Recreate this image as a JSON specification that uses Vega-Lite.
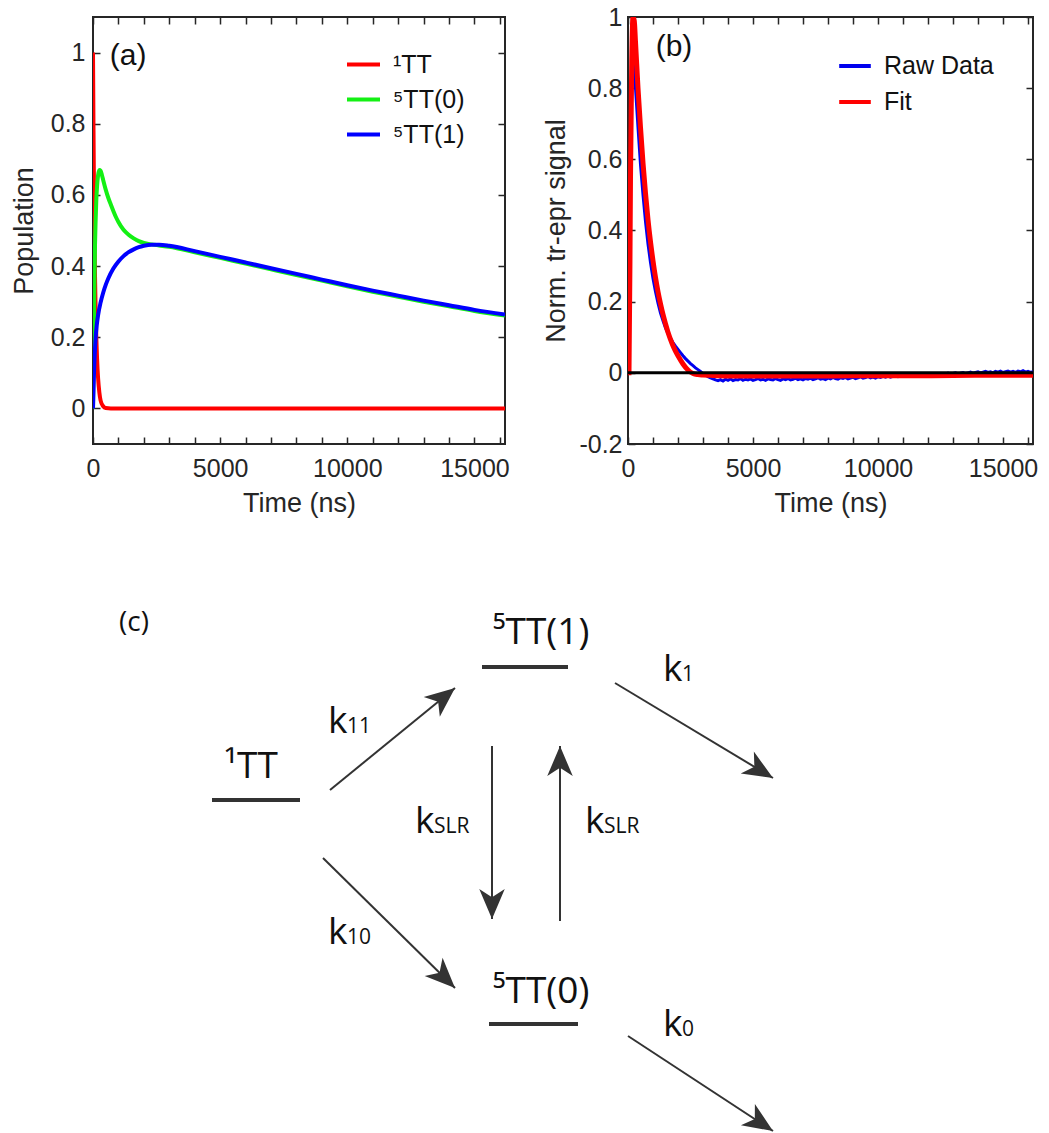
{
"$schema":"https://vega.github.io/schema/vega-lite/v6.json",
"padding":{"left":9,"top":4,"right":0,"bottom":0},
"config":{
 "font":"Liberation Sans",
 "axis":{"labelFont":"Liberation Sans","titleFont":"Liberation Sans","labelColor":"#262626","titleColor":"#262626","titleFontWeight":"normal","labelFontSize":25,"titleFontSize":27,"tickColor":"#262626","tickWidth":1.5,"tickSize":-7,"domain":false,"grid":false,"labelFlush":false,"labelOverlap":false,"labelBound":false},
 "view":{"stroke":"#262626","strokeWidth":2},
 "legend":{"orient":"none","title":null,"symbolType":"stroke","symbolStrokeWidth":4,"labelFont":"Liberation Sans","labelFontSize":25,"labelColor":"#111","rowPadding":3,"labelOffset":11,"padding":0}
},
"datasets":{
 "pop":[
  {"t":0,"v":1,"s":"¹TT"},{"t":20,"v":0.78,"s":"¹TT"},{"t":40,"v":0.6,"s":"¹TT"},{"t":60,"v":0.47,"s":"¹TT"},{"t":80,"v":0.37,"s":"¹TT"},{"t":100,"v":0.29,"s":"¹TT"},{"t":130,"v":0.2,"s":"¹TT"},{"t":160,"v":0.14,"s":"¹TT"},{"t":200,"v":0.085,"s":"¹TT"},{"t":250,"v":0.045,"s":"¹TT"},{"t":300,"v":0.022,"s":"¹TT"},{"t":400,"v":0.006,"s":"¹TT"},{"t":500,"v":0.001,"s":"¹TT"},{"t":700,"v":0,"s":"¹TT"},{"t":16200,"v":0,"s":"¹TT"},
  {"t":0,"v":0,"s":"⁵TT(0)"},{"t":20,"v":0.14,"s":"⁵TT(0)"},{"t":40,"v":0.27,"s":"⁵TT(0)"},{"t":60,"v":0.38,"s":"⁵TT(0)"},{"t":80,"v":0.46,"s":"⁵TT(0)"},{"t":100,"v":0.52,"s":"⁵TT(0)"},{"t":130,"v":0.585,"s":"⁵TT(0)"},{"t":160,"v":0.625,"s":"⁵TT(0)"},{"t":200,"v":0.655,"s":"⁵TT(0)"},{"t":250,"v":0.67,"s":"⁵TT(0)"},{"t":300,"v":0.668,"s":"⁵TT(0)"},{"t":350,"v":0.656,"s":"⁵TT(0)"},{"t":400,"v":0.642,"s":"⁵TT(0)"},{"t":500,"v":0.615,"s":"⁵TT(0)"},{"t":600,"v":0.592,"s":"⁵TT(0)"},{"t":700,"v":0.573,"s":"⁵TT(0)"},{"t":800,"v":0.555,"s":"⁵TT(0)"},{"t":900,"v":0.538,"s":"⁵TT(0)"},{"t":1000,"v":0.524,"s":"⁵TT(0)"},{"t":1200,"v":0.502,"s":"⁵TT(0)"},{"t":1400,"v":0.488,"s":"⁵TT(0)"},{"t":1600,"v":0.478,"s":"⁵TT(0)"},{"t":1800,"v":0.47,"s":"⁵TT(0)"},{"t":2000,"v":0.465,"s":"⁵TT(0)"},{"t":2300,"v":0.461,"s":"⁵TT(0)"},{"t":2600,"v":0.458,"s":"⁵TT(0)"},{"t":3000,"v":0.454,"s":"⁵TT(0)"},{"t":4000,"v":0.439,"s":"⁵TT(0)"},{"t":5000,"v":0.423,"s":"⁵TT(0)"},{"t":6000,"v":0.407,"s":"⁵TT(0)"},{"t":7000,"v":0.391,"s":"⁵TT(0)"},{"t":8000,"v":0.375,"s":"⁵TT(0)"},{"t":9000,"v":0.359,"s":"⁵TT(0)"},{"t":10000,"v":0.343,"s":"⁵TT(0)"},{"t":11000,"v":0.328,"s":"⁵TT(0)"},{"t":12000,"v":0.314,"s":"⁵TT(0)"},{"t":13000,"v":0.3,"s":"⁵TT(0)"},{"t":14000,"v":0.287,"s":"⁵TT(0)"},{"t":15000,"v":0.274,"s":"⁵TT(0)"},{"t":16200,"v":0.261,"s":"⁵TT(0)"},
  {"t":0,"v":0,"s":"⁵TT(1)"},{"t":20,"v":0.05,"s":"⁵TT(1)"},{"t":40,"v":0.1,"s":"⁵TT(1)"},{"t":60,"v":0.14,"s":"⁵TT(1)"},{"t":80,"v":0.17,"s":"⁵TT(1)"},{"t":100,"v":0.195,"s":"⁵TT(1)"},{"t":150,"v":0.235,"s":"⁵TT(1)"},{"t":200,"v":0.262,"s":"⁵TT(1)"},{"t":300,"v":0.298,"s":"⁵TT(1)"},{"t":400,"v":0.325,"s":"⁵TT(1)"},{"t":500,"v":0.347,"s":"⁵TT(1)"},{"t":600,"v":0.365,"s":"⁵TT(1)"},{"t":800,"v":0.393,"s":"⁵TT(1)"},{"t":1000,"v":0.413,"s":"⁵TT(1)"},{"t":1200,"v":0.428,"s":"⁵TT(1)"},{"t":1400,"v":0.439,"s":"⁵TT(1)"},{"t":1600,"v":0.447,"s":"⁵TT(1)"},{"t":1800,"v":0.453,"s":"⁵TT(1)"},{"t":2000,"v":0.457,"s":"⁵TT(1)"},{"t":2300,"v":0.46,"s":"⁵TT(1)"},{"t":2600,"v":0.46,"s":"⁵TT(1)"},{"t":3000,"v":0.457,"s":"⁵TT(1)"},{"t":4000,"v":0.442,"s":"⁵TT(1)"},{"t":5000,"v":0.426,"s":"⁵TT(1)"},{"t":6000,"v":0.41,"s":"⁵TT(1)"},{"t":7000,"v":0.394,"s":"⁵TT(1)"},{"t":8000,"v":0.378,"s":"⁵TT(1)"},{"t":9000,"v":0.362,"s":"⁵TT(1)"},{"t":10000,"v":0.346,"s":"⁵TT(1)"},{"t":11000,"v":0.331,"s":"⁵TT(1)"},{"t":12000,"v":0.317,"s":"⁵TT(1)"},{"t":13000,"v":0.303,"s":"⁵TT(1)"},{"t":14000,"v":0.29,"s":"⁵TT(1)"},{"t":15000,"v":0.277,"s":"⁵TT(1)"},{"t":16200,"v":0.264,"s":"⁵TT(1)"}
 ],
 "sig":[
  {"t":0,"v":0,"s":"Raw Data"},{"t":30,"v":0,"s":"Raw Data"},{"t":60,"v":0.15,"s":"Raw Data"},{"t":100,"v":0.5,"s":"Raw Data"},{"t":150,"v":0.82,"s":"Raw Data"},{"t":200,"v":0.92,"s":"Raw Data"},{"t":250,"v":0.88,"s":"Raw Data"},{"t":300,"v":0.8,"s":"Raw Data"},{"t":400,"v":0.69,"s":"Raw Data"},{"t":500,"v":0.585,"s":"Raw Data"},{"t":600,"v":0.5,"s":"Raw Data"},{"t":700,"v":0.425,"s":"Raw Data"},{"t":800,"v":0.362,"s":"Raw Data"},{"t":900,"v":0.31,"s":"Raw Data"},{"t":1000,"v":0.265,"s":"Raw Data"},{"t":1100,"v":0.228,"s":"Raw Data"},{"t":1200,"v":0.196,"s":"Raw Data"},{"t":1300,"v":0.168,"s":"Raw Data"},{"t":1400,"v":0.146,"s":"Raw Data"},{"t":1500,"v":0.126,"s":"Raw Data"},{"t":1600,"v":0.11,"s":"Raw Data"},{"t":1700,"v":0.097,"s":"Raw Data"},{"t":1800,"v":0.085,"s":"Raw Data"},{"t":1900,"v":0.075,"s":"Raw Data"},{"t":2000,"v":0.066,"s":"Raw Data"},{"t":2100,"v":0.057,"s":"Raw Data"},{"t":2200,"v":0.048,"s":"Raw Data"},{"t":2300,"v":0.04,"s":"Raw Data"},{"t":2400,"v":0.033,"s":"Raw Data"},{"t":2500,"v":0.026,"s":"Raw Data"},{"t":2600,"v":0.02,"s":"Raw Data"},{"t":2700,"v":0.014,"s":"Raw Data"},{"t":2800,"v":0.009,"s":"Raw Data"},{"t":2900,"v":0.004,"s":"Raw Data"},
  {"t":3000,"v":-0.002,"s":"Raw Data"},{"t":3100,"v":-0.006,"s":"Raw Data"},{"t":3200,"v":-0.011,"s":"Raw Data"},{"t":3300,"v":-0.014,"s":"Raw Data"},{"t":3400,"v":-0.017,"s":"Raw Data"},{"t":3500,"v":-0.02,"s":"Raw Data"},{"t":3600,"v":-0.022,"s":"Raw Data"},{"t":3700,"v":-0.019,"s":"Raw Data"},{"t":3800,"v":-0.023,"s":"Raw Data"},{"t":3900,"v":-0.018,"s":"Raw Data"},{"t":4000,"v":-0.021,"s":"Raw Data"},{"t":4100,"v":-0.017,"s":"Raw Data"},{"t":4200,"v":-0.022,"s":"Raw Data"},{"t":4300,"v":-0.019,"s":"Raw Data"},{"t":4400,"v":-0.02,"s":"Raw Data"},{"t":4500,"v":-0.016,"s":"Raw Data"},{"t":4600,"v":-0.021,"s":"Raw Data"},{"t":4700,"v":-0.018,"s":"Raw Data"},{"t":4800,"v":-0.02,"s":"Raw Data"},{"t":4900,"v":-0.017,"s":"Raw Data"},{"t":5000,"v":-0.021,"s":"Raw Data"},{"t":5100,"v":-0.019,"s":"Raw Data"},{"t":5200,"v":-0.016,"s":"Raw Data"},{"t":5300,"v":-0.02,"s":"Raw Data"},{"t":5400,"v":-0.018,"s":"Raw Data"},{"t":5500,"v":-0.021,"s":"Raw Data"},{"t":5600,"v":-0.017,"s":"Raw Data"},{"t":5700,"v":-0.019,"s":"Raw Data"},{"t":5800,"v":-0.02,"s":"Raw Data"},{"t":5900,"v":-0.016,"s":"Raw Data"},{"t":6000,"v":-0.019,"s":"Raw Data"},{"t":6100,"v":-0.021,"s":"Raw Data"},{"t":6200,"v":-0.017,"s":"Raw Data"},{"t":6300,"v":-0.019,"s":"Raw Data"},{"t":6400,"v":-0.016,"s":"Raw Data"},{"t":6500,"v":-0.02,"s":"Raw Data"},{"t":6600,"v":-0.018,"s":"Raw Data"},{"t":6700,"v":-0.015,"s":"Raw Data"},{"t":6800,"v":-0.019,"s":"Raw Data"},{"t":6900,"v":-0.017,"s":"Raw Data"},{"t":7000,"v":-0.02,"s":"Raw Data"},{"t":7100,"v":-0.016,"s":"Raw Data"},{"t":7200,"v":-0.018,"s":"Raw Data"},{"t":7300,"v":-0.015,"s":"Raw Data"},{"t":7400,"v":-0.019,"s":"Raw Data"},{"t":7500,"v":-0.017,"s":"Raw Data"},{"t":7600,"v":-0.014,"s":"Raw Data"},{"t":7700,"v":-0.018,"s":"Raw Data"},{"t":7800,"v":-0.016,"s":"Raw Data"},{"t":7900,"v":-0.019,"s":"Raw Data"},{"t":8000,"v":-0.015,"s":"Raw Data"},{"t":8100,"v":-0.017,"s":"Raw Data"},{"t":8200,"v":-0.013,"s":"Raw Data"},{"t":8300,"v":-0.016,"s":"Raw Data"},{"t":8400,"v":-0.018,"s":"Raw Data"},{"t":8500,"v":-0.014,"s":"Raw Data"},{"t":8600,"v":-0.016,"s":"Raw Data"},{"t":8700,"v":-0.013,"s":"Raw Data"},{"t":8800,"v":-0.017,"s":"Raw Data"},{"t":8900,"v":-0.015,"s":"Raw Data"},{"t":9000,"v":-0.012,"s":"Raw Data"},{"t":9100,"v":-0.016,"s":"Raw Data"},{"t":9200,"v":-0.014,"s":"Raw Data"},{"t":9300,"v":-0.011,"s":"Raw Data"},{"t":9400,"v":-0.015,"s":"Raw Data"},{"t":9500,"v":-0.013,"s":"Raw Data"},{"t":9600,"v":-0.01,"s":"Raw Data"},{"t":9700,"v":-0.014,"s":"Raw Data"},{"t":9800,"v":-0.012,"s":"Raw Data"},{"t":9900,"v":-0.015,"s":"Raw Data"},{"t":10000,"v":-0.011,"s":"Raw Data"},{"t":10100,"v":-0.013,"s":"Raw Data"},{"t":10200,"v":-0.01,"s":"Raw Data"},{"t":10300,"v":-0.012,"s":"Raw Data"},{"t":10400,"v":-0.009,"s":"Raw Data"},{"t":10500,"v":-0.012,"s":"Raw Data"},{"t":10600,"v":-0.01,"s":"Raw Data"},{"t":10700,"v":-0.008,"s":"Raw Data"},{"t":10800,"v":-0.011,"s":"Raw Data"},{"t":10900,"v":-0.009,"s":"Raw Data"},{"t":11000,"v":-0.007,"s":"Raw Data"},{"t":11100,"v":-0.01,"s":"Raw Data"},{"t":11200,"v":-0.008,"s":"Raw Data"},{"t":11300,"v":-0.006,"s":"Raw Data"},{"t":11400,"v":-0.009,"s":"Raw Data"},{"t":11500,"v":-0.007,"s":"Raw Data"},{"t":11600,"v":-0.005,"s":"Raw Data"},{"t":11700,"v":-0.008,"s":"Raw Data"},{"t":11800,"v":-0.006,"s":"Raw Data"},{"t":11900,"v":-0.004,"s":"Raw Data"},{"t":12000,"v":-0.007,"s":"Raw Data"},{"t":12100,"v":-0.005,"s":"Raw Data"},{"t":12200,"v":-0.003,"s":"Raw Data"},{"t":12300,"v":-0.006,"s":"Raw Data"},{"t":12400,"v":-0.004,"s":"Raw Data"},{"t":12500,"v":-0.002,"s":"Raw Data"},{"t":12600,"v":-0.005,"s":"Raw Data"},{"t":12700,"v":-0.003,"s":"Raw Data"},{"t":12800,"v":-0.001,"s":"Raw Data"},{"t":12900,"v":-0.004,"s":"Raw Data"},{"t":13000,"v":-0.002,"s":"Raw Data"},{"t":13100,"v":0,"s":"Raw Data"},{"t":13200,"v":-0.003,"s":"Raw Data"},{"t":13300,"v":-0.001,"s":"Raw Data"},{"t":13400,"v":0.001,"s":"Raw Data"},{"t":13500,"v":-0.002,"s":"Raw Data"},{"t":13600,"v":0,"s":"Raw Data"},{"t":13700,"v":0.002,"s":"Raw Data"},{"t":13800,"v":-0.001,"s":"Raw Data"},{"t":13900,"v":0.001,"s":"Raw Data"},{"t":14000,"v":0.003,"s":"Raw Data"},{"t":14100,"v":0,"s":"Raw Data"},{"t":14200,"v":0.002,"s":"Raw Data"},{"t":14300,"v":0.004,"s":"Raw Data"},{"t":14400,"v":0.001,"s":"Raw Data"},{"t":14500,"v":0.003,"s":"Raw Data"},{"t":14600,"v":0,"s":"Raw Data"},{"t":14700,"v":0.004,"s":"Raw Data"},{"t":14800,"v":0.002,"s":"Raw Data"},{"t":14900,"v":0.005,"s":"Raw Data"},{"t":15000,"v":0.001,"s":"Raw Data"},{"t":15100,"v":0.003,"s":"Raw Data"},{"t":15200,"v":0.005,"s":"Raw Data"},{"t":15300,"v":0.002,"s":"Raw Data"},{"t":15400,"v":0.004,"s":"Raw Data"},{"t":15500,"v":0.001,"s":"Raw Data"},{"t":15600,"v":0.005,"s":"Raw Data"},{"t":15700,"v":0.003,"s":"Raw Data"},{"t":15800,"v":0.006,"s":"Raw Data"},{"t":15900,"v":0.002,"s":"Raw Data"},{"t":16000,"v":0.004,"s":"Raw Data"},{"t":16100,"v":0.001,"s":"Raw Data"},{"t":16200,"v":0.003,"s":"Raw Data"},
  {"t":0,"v":0,"s":"Fit"},{"t":40,"v":0,"s":"Fit"},{"t":100,"v":0.55,"s":"Fit"},{"t":150,"v":0.88,"s":"Fit"},{"t":200,"v":1.0,"s":"Fit"},{"t":250,"v":0.99,"s":"Fit"},{"t":300,"v":0.93,"s":"Fit"},{"t":400,"v":0.8,"s":"Fit"},{"t":500,"v":0.69,"s":"Fit"},{"t":600,"v":0.59,"s":"Fit"},{"t":700,"v":0.505,"s":"Fit"},{"t":800,"v":0.43,"s":"Fit"},{"t":900,"v":0.368,"s":"Fit"},{"t":1000,"v":0.315,"s":"Fit"},{"t":1100,"v":0.268,"s":"Fit"},{"t":1200,"v":0.228,"s":"Fit"},{"t":1300,"v":0.194,"s":"Fit"},{"t":1400,"v":0.164,"s":"Fit"},{"t":1500,"v":0.138,"s":"Fit"},{"t":1600,"v":0.114,"s":"Fit"},{"t":1700,"v":0.094,"s":"Fit"},{"t":1800,"v":0.076,"s":"Fit"},{"t":1900,"v":0.061,"s":"Fit"},{"t":2000,"v":0.048,"s":"Fit"},{"t":2200,"v":0.025,"s":"Fit"},{"t":2400,"v":0.008,"s":"Fit"},{"t":2600,"v":-0.002,"s":"Fit"},{"t":2800,"v":-0.005,"s":"Fit"},{"t":3000,"v":-0.006,"s":"Fit"},{"t":3300,"v":-0.007,"s":"Fit"},{"t":3600,"v":-0.008,"s":"Fit"},{"t":4000,"v":-0.009,"s":"Fit"},{"t":6000,"v":-0.009,"s":"Fit"},{"t":8000,"v":-0.009,"s":"Fit"},{"t":10000,"v":-0.008,"s":"Fit"},{"t":12000,"v":-0.008,"s":"Fit"},{"t":14000,"v":-0.007,"s":"Fit"},{"t":16200,"v":-0.007,"s":"Fit"}
 ],
 "levels":[{"x":11.9,"x2":20.7,"y":20.9},{"x":38.9,"x2":47.5,"y":7.6},{"x":39.6,"x2":48.5,"y":43.3}],
 "levelLabels":[{"x":15.8,"y":18.7,"label":"¹TT"},{"x":44.8,"y":5.3,"label":"⁵TT(1)"},{"x":44.8,"y":41.2,"label":"⁵TT(0)"}],
 "arrows":[
  {"x":23.7,"y":19.9,"x2":36.2,"y2":9.7},
  {"x":23.0,"y":26.7,"x2":36.2,"y2":39.7},
  {"x":52.2,"y":9.2,"x2":68.0,"y2":18.7},
  {"x":53.5,"y":44.5,"x2":68.0,"y2":54.0},
  {"x":39.9,"y":15.5,"x2":39.9,"y2":32.8},
  {"x":46.7,"y":33.0,"x2":46.7,"y2":15.5}
 ],
 "rates":[
  {"x":23.5,"y":14.2,"sub":"11"},
  {"x":23.5,"y":35.3,"sub":"10"},
  {"x":57.0,"y":9.0,"sub":"1"},
  {"x":57.0,"y":44.5,"sub":"0"},
  {"x":32.2,"y":24.2,"sub":"SLR"},
  {"x":49.2,"y":24.2,"sub":"SLR"}
 ]
},
"vconcat":[
 {
  "hconcat":[
   {
    "width":412,"height":427,
    "layer":[
     {"data":{"name":"pop"},
      "mark":{"type":"line","strokeWidth":4,"interpolate":"monotone","clip":true},
      "encoding":{
       "x":{"field":"t","type":"quantitative","scale":{"domain":[0,16200],"nice":false,"zero":false},
            "axis":{"orient":"bottom","values":[0,1000,2000,3000,4000,5000,6000,7000,8000,9000,10000,11000,12000,13000,14000,15000,16000],"labelExpr":"datum.value % 5000 === 0 ? format(datum.value, 'd') : ''","labelPadding":19,"title":"Time (ns)","titlePadding":9}},
       "y":{"field":"v","type":"quantitative","scale":{"domain":[-0.1,1.1],"nice":false,"zero":false},
            "axis":{"orient":"left","values":[0,0.2,0.4,0.6,0.8,1],"format":".1~f","labelPadding":15,"title":"Population","titlePadding":12}},
       "color":{"field":"s","type":"nominal","sort":null,"scale":{"domain":["¹TT","⁵TT(0)","⁵TT(1)"],"range":["#ff0000","#14f014","#0000ff"]},
            "legend":{"legendX":252,"legendY":29,"symbolSize":1089}}
      }},
     {"data":{"values":[{"t":1380,"v":0.99,"label":"(a)"}]},
      "mark":{"type":"text","font":"Liberation Sans","fontSize":30,"color":"#111","align":"center","baseline":"middle"},
      "encoding":{
       "x":{"field":"t","type":"quantitative","axis":{"orient":"top","values":[0,1000,2000,3000,4000,5000,6000,7000,8000,9000,10000,11000,12000,13000,14000,15000,16000],"labels":false,"title":null}},
       "y":{"field":"v","type":"quantitative","axis":{"orient":"right","values":[0,0.2,0.4,0.6,0.8,1],"labels":false,"title":null}},
       "text":{"field":"label"}
      }}
    ],
    "resolve":{"axis":{"x":"independent","y":"independent"}}
   },
   {
    "width":405,"height":427,
    "layer":[
     {"data":{"name":"sig"},
      "transform":[{"filter":"datum.s == 'Raw Data'"}],
      "mark":{"type":"line","strokeWidth":3,"clip":true},
      "encoding":{
       "x":{"field":"t","type":"quantitative","scale":{"domain":[0,16200],"nice":false,"zero":false},
            "axis":{"orient":"bottom","values":[0,1000,2000,3000,4000,5000,6000,7000,8000,9000,10000,11000,12000,13000,14000,15000,16000],"labelExpr":"datum.value % 5000 === 0 ? format(datum.value, 'd') : ''","labelPadding":19,"title":"Time (ns)","titlePadding":9}},
       "y":{"field":"v","type":"quantitative","scale":{"domain":[-0.2,1.0],"nice":false,"zero":false},
            "axis":{"orient":"left","values":[-0.2,0,0.2,0.4,0.6,0.8,1],"labelExpr":"replace(format(datum.value, '.1~f'), '−', '-')","labelPadding":13,"title":"Norm. tr-epr signal","titlePadding":8}},
       "color":{"field":"s","type":"nominal","scale":{"domain":["Raw Data","Fit"],"range":["#0000ee","#ff0000"]},
            "legend":{"legendX":209,"legendY":31,"symbolSize":1000,"rowPadding":5}}
      }},
     {"data":{"name":"sig"},
      "transform":[{"filter":"datum.s == 'Fit'"}],
      "mark":{"type":"line","strokeWidth":5,"interpolate":"monotone","clip":true},
      "encoding":{
       "x":{"field":"t","type":"quantitative","axis":null},
       "y":{"field":"v","type":"quantitative","axis":null},
       "color":{"field":"s","type":"nominal"}
      }},
     {"data":{"values":[{"t":0,"t2":16200,"v":0}]},
      "mark":{"type":"rule","color":"#000","strokeWidth":3},
      "encoding":{
       "x":{"field":"t","type":"quantitative","axis":{"orient":"top","values":[0,1000,2000,3000,4000,5000,6000,7000,8000,9000,10000,11000,12000,13000,14000,15000,16000],"labels":false,"title":null}},
       "x2":{"field":"t2"},
       "y":{"field":"v","type":"quantitative","axis":{"orient":"right","values":[-0.2,0,0.2,0.4,0.6,0.8,1],"labels":false,"title":null}}
      }},
     {"data":{"values":[{"t":1840,"v":0.916,"label":"(b)"}]},
      "mark":{"type":"text","font":"Liberation Sans","fontSize":30,"color":"#111","align":"center","baseline":"middle"},
      "encoding":{
       "x":{"field":"t","type":"quantitative","axis":null},
       "y":{"field":"v","type":"quantitative","axis":null},
       "text":{"field":"label"}
      }}
    ],
    "resolve":{"axis":{"x":"independent","y":"independent"}}
   }
  ],
  "spacing":123,
  "bounds":"flush",
  "resolve":{"scale":{"color":"independent","x":"independent","y":"independent"},"legend":{"color":"independent"}}
 },
 {
  "width":950,"height":543,
  "view":{"stroke":null},
  "layer":[
   {"data":{"name":"levels"},
    "mark":{"type":"rule","strokeWidth":4,"color":"#333"},
    "encoding":{
     "x":{"field":"x","type":"quantitative","scale":{"domain":[0,95],"nice":false,"zero":false},"axis":null},
     "x2":{"field":"x2"},
     "y":{"field":"y","type":"quantitative","scale":{"domain":[0,54.3],"nice":false,"zero":false,"reverse":true},"axis":null}
    }},
   {"data":{"name":"arrows"},
    "mark":{"type":"rule","strokeWidth":2,"color":"#333"},
    "encoding":{
     "x":{"field":"x","type":"quantitative"},
     "x2":{"field":"x2"},
     "y":{"field":"y","type":"quantitative"},
     "y2":{"field":"y2"}
    }},
   {"data":{"name":"arrows"},
    "transform":[{"calculate":"atan2(datum.y2 - datum.y, datum.x2 - datum.x) * 180 / PI","as":"angle"}],
    "mark":{"type":"point","shape":"M0,0L-2,-0.85L-1.45,0L-2,0.85Z","filled":true,"size":900,"color":"#333","opacity":1,"strokeWidth":0},
    "encoding":{
     "x":{"field":"x2","type":"quantitative"},
     "y":{"field":"y2","type":"quantitative"},
     "angle":{"field":"angle","type":"quantitative","scale":null}
    }},
   {"data":{"name":"levelLabels"},
    "mark":{"type":"text","font":"Open Sans","fontSize":37,"align":"center","baseline":"alphabetic","color":"#111"},
    "encoding":{
     "x":{"field":"x","type":"quantitative"},
     "y":{"field":"y","type":"quantitative"},
     "text":{"field":"label"}
    }},
   {"data":{"name":"rates"},
    "mark":{"type":"text","font":"Open Sans","fontSize":37,"align":"left","baseline":"alphabetic","color":"#111"},
    "encoding":{
     "x":{"field":"x","type":"quantitative"},
     "y":{"field":"y","type":"quantitative"},
     "text":{"value":"k"}
    }},
   {"data":{"name":"rates"},
    "mark":{"type":"text","font":"Open Sans","fontSize":21,"align":"left","baseline":"alphabetic","color":"#111","dx":19},
    "encoding":{
     "x":{"field":"x","type":"quantitative"},
     "y":{"field":"y","type":"quantitative"},
     "text":{"field":"sub"}
    }},
   {"data":{"values":[{"x":4.1,"y":3.2,"label":"(c)"}]},
    "mark":{"type":"text","font":"Open Sans","fontSize":28,"align":"center","baseline":"middle","color":"#111"},
    "encoding":{
     "x":{"field":"x","type":"quantitative"},
     "y":{"field":"y","type":"quantitative"},
     "text":{"field":"label"}
    }}
  ]
 }
],
"spacing":74,
"bounds":"full",
"resolve":{"scale":{"color":"independent","x":"independent","y":"independent"},"legend":{"color":"independent"}}
}
